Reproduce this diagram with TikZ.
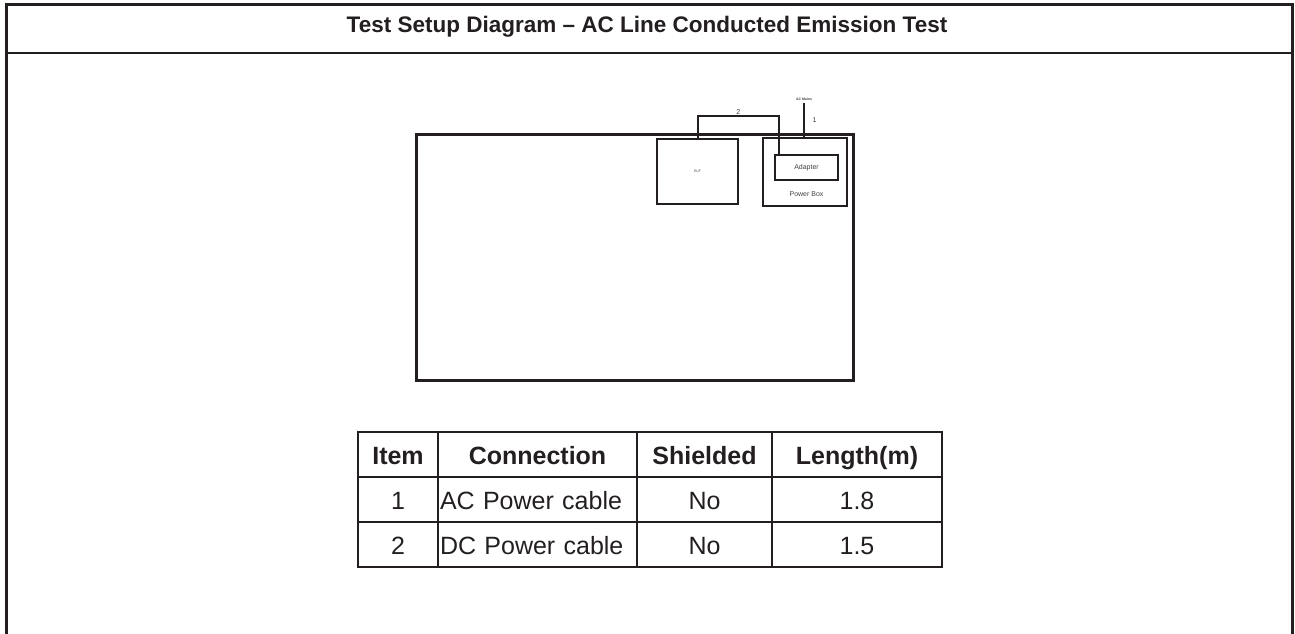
\documentclass[tikz,border=0pt]{standalone}
\usepackage{fontspec}
\setmainfont{Liberation Sans}
\usetikzlibrary{positioning}
\definecolor{ink}{HTML}{231F20}

\begin{document}
\begin{tikzpicture}[x=1pt, y=-1pt,
        box/.style={draw=ink, line width=2pt, inner sep=0pt, anchor=north west},
        cable/.style={draw=ink, line width=2pt},
        tag/.style={inner sep=0.5pt, text=ink!85, font=\fontsize{7}{8}\selectfont},
        cell/.style={draw=ink, line width=2pt, minimum height=45pt, inner sep=0pt,
            text height=21pt, text depth=2pt,
            anchor=north west, text=ink, font=\fontsize{25}{30}\selectfont},
        head/.style={cell, font=\bfseries\fontsize{25}{30}\selectfont},
        lcell/.style={cell, text width=195pt, inner xsep=2pt, align=left}]
        \useasboundingbox (0,0) rectangle (1295,634);

        % frame and title
        \draw[ink, line width=3pt] (6.5,634) -- (6.5,5) -- (1292.5,5) -- (1292.5,634);
        \draw[ink, line width=2pt] (6.5,53) -- (1292.5,53);
        \node[text=ink, font=\bfseries\fontsize{22.5}{26}\selectfont] (title) at (647,27)
            {Test Setup Diagram – AC Line Conducted Emission Test};

        % setup
        \node[box, line width=2.5pt, minimum width=437pt, minimum height=246pt] (bench) at (415,133) {};
        \node[box, minimum width=81pt, minimum height=65pt, text=ink!85, font=\fontsize{3.5}{4}\selectfont] (eut) at (656,138) {EUT};
        \node[box, minimum width=84pt, minimum height=68pt] (pbox) at (762,137) {};
        \node[box, minimum width=63pt, minimum height=25pt, font=\fontsize{7}{8}\selectfont, text=ink!85] (adapter) at (774,154) {Adapter};
        \node[tag, below=10pt of adapter] (pboxlabel) {Power Box};
        \coordinate (mains) at (804,103);
        \node[tag, font=\bfseries\fontsize{3.5}{4}\selectfont, above=2pt of mains] (mainslabel) {AC Mains};

        \draw[cable] (eut.north) -- ++(0,-22) -| node[tag, pos=0.25, above] {2} ([xshift=5pt]adapter.north west);
        \draw[cable] (mains) -- node[tag, right=7pt] {1} (mains |- pbox.north);

        % table
        \node[head, minimum width=80pt]  (h1) at (357,431) {Item};
        \node[head, minimum width=199pt] (h2) at (437,431) {Connection};
        \node[head, minimum width=135pt] (h3) at (636,431) {Shielded};
        \node[head, minimum width=170pt] (h4) at (771,431) {Length(m)};

        \node[cell, minimum width=80pt]  (a1) at (357,476) {1};
        \node[lcell]                     (a2) at (437,476) {AC Power cable};
        \node[cell, minimum width=135pt] (a3) at (636,476) {No};
        \node[cell, minimum width=170pt] (a4) at (771,476) {1.8};

        \node[cell, minimum width=80pt]  (b1) at (357,521) {2};
        \node[lcell]                     (b2) at (437,521) {DC Power cable};
        \node[cell, minimum width=135pt] (b3) at (636,521) {No};
        \node[cell, minimum width=170pt] (b4) at (771,521) {1.5};
\end{tikzpicture}
\end{document}
